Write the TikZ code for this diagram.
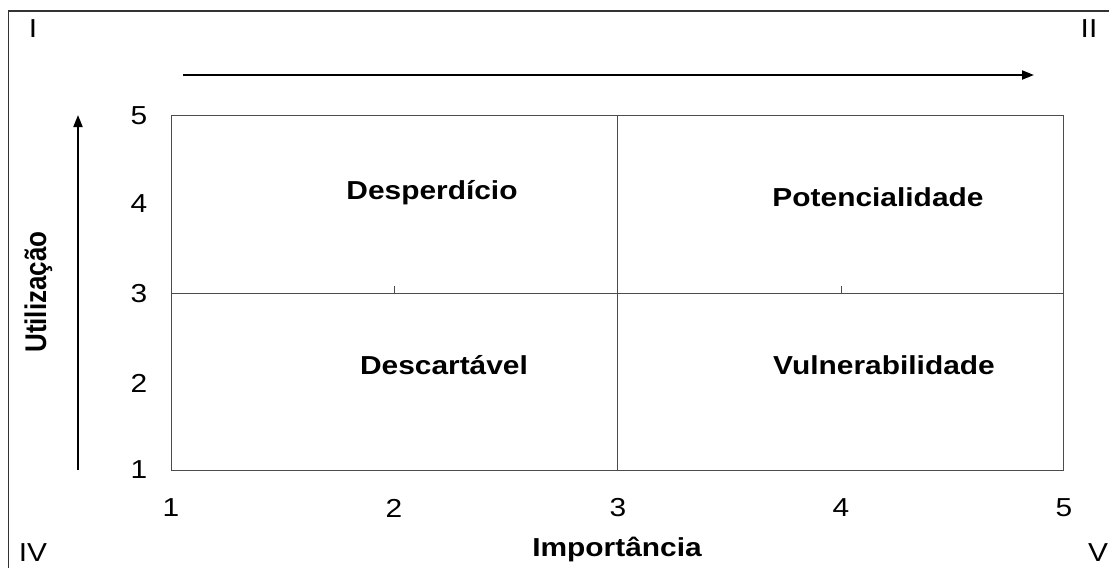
\documentclass[tikz,border=0pt]{standalone}
\usepackage{fontspec}
\setmainfont{Liberation Sans}
\usetikzlibrary{arrows.meta}
\newcommand{\sx}[1]{\scalebox{1.15}[1]{#1}}
\newcommand{\sy}[1]{\scalebox{1}[1.15]{#1}}
\begin{document}
\begin{tikzpicture}[x=1pt,y=-1pt,
  lbl/.style={font=\fontsize{26}{30}\selectfont, inner sep=0pt},
  qlbl/.style={font=\fontsize{26}{30}\selectfont\bfseries, inner sep=0pt, anchor=base},
  frame/.style={line width=1.5pt, draw=black!80},
  gridline/.style={line width=1pt, draw=black!70},
  tickmark/.style={line width=1pt, draw=black!70},
  axarrow/.style={line width=2pt, -{Triangle[length=12pt,width=9pt]}}]
\useasboundingbox (0,0) rectangle (1109,568);
% outer frame
\coordinate (TL) at (8.5,11);
\coordinate (TR) at (1109,11);
\coordinate (BL) at (8.5,568);
\draw[frame] (TR) -- (TL) -- (BL);
% plot box
\coordinate (P11) at (171,470);
\coordinate (P55) at (1063,115);
\draw[gridline] (P11) rectangle (P55);
\draw[gridline] (617,115) -- (617,470);
\draw[gridline] (171,293) -- (1063,293);
\draw[tickmark] (394,293) -- (394,286);
\draw[tickmark] (841,293) -- (841,286);
% arrows
\coordinate (ha1) at (183,75);
\coordinate (ha2) at (1034,75);
\draw[axarrow] (ha1) -- (ha2);
\coordinate (va1) at (78,470);
\coordinate (va2) at (78,115);
\draw[axarrow] (va1) -- (va2);
% y tick labels
\node[lbl] (y5) at (139,116) {\sx{5}};
\node[lbl] (y4) at (139,204) {\sx{4}};
\node[lbl] (y3) at (139,294) {\sx{3}};
\node[lbl] (y2) at (139,383) {\sx{2}};
\node[lbl] (y1) at (139,470) {\sx{1}};
% x tick labels
\node[lbl] (x1) at (171,508) {\sx{1}};
\node[lbl] (x2) at (394,508) {\sx{2}};
\node[lbl] (x3) at (618,508) {\sx{3}};
\node[lbl] (x4) at (841,508) {\sx{4}};
\node[lbl] (x5) at (1064,508) {\sx{5}};
% quadrant labels
\node[qlbl] (q1) at (432,199) {\sx{Desperdício}};
\node[qlbl] (q2) at (878,206) {\sx{Potencialidade}};
\node[qlbl] (q3) at (444,374) {\sx{Descartável}};
\node[qlbl] (q4) at (884,374) {\sx{Vulnerabilidade}};
% axis titles
\node[qlbl] (xt) at (617,556) {\sx{Importância}};
\node[qlbl, rotate=90] (yt) at (46,292) {\sy{Utilização}};
% corner numerals
\node[lbl, anchor=base] (r1) at (33,37) {\sx{I}};
\node[lbl, anchor=base] (r2) at (1089,37) {\sx{II}};
\node[lbl, anchor=base] (r4) at (33,561) {\sx{IV}};
\node[lbl, anchor=base] (r5) at (1098,561) {\sx{V}};
\end{tikzpicture}
\end{document}
